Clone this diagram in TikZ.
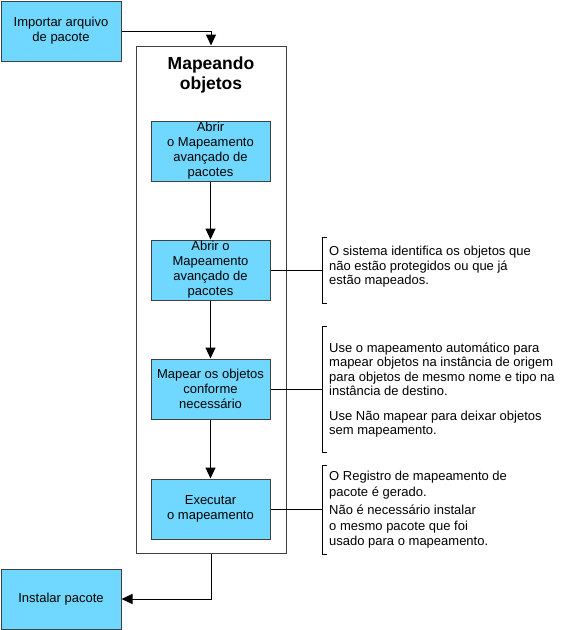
\documentclass[tikz,border=0pt]{standalone}
\usepackage{fontspec}
\setmainfont{Liberation Sans}
\usetikzlibrary{positioning,arrows.meta}
\definecolor{boxblue}{HTML}{70D8FF}
\definecolor{edgegray}{HTML}{404040}

\begin{document}
\begin{tikzpicture}[
    x=1pt, y=1pt,
    font=\fontsize{13}{15}\selectfont,
    block/.style={
        rectangle,
        draw=edgegray,
        line width=1pt,
        fill=boxblue,
        minimum width=120pt,
        minimum height=60pt,
        inner sep=0pt,
        align=center
    },
    frame/.style={
        rectangle,
        draw=edgegray,
        line width=1pt,
        minimum width=150pt,
        minimum height=507pt,
        inner sep=0pt
    },
    flow/.style={-{Triangle[length=11pt,width=10pt]}, line width=1pt},
    tie/.style={line width=1pt},
    note/.style={anchor=west, align=left, inner sep=0pt, font=\fontsize{13}{14.5}\selectfont}
]
    \useasboundingbox (0,0) rectangle (579,-630);

    % Outer blocks
    \node[block] (imp) at (61,-31) {Importar arquivo\\de pacote};
    \node[block] (inst) at (61,-599) {Instalar pacote};

    % Mapping frame
    \node[frame] (map) at (211,-299.5) {};
    \node[font=\fontsize{17.5}{20}\selectfont\bfseries, align=center] (title) at (211,-75) {Mapeando\\objetos};

    % Steps
    \node[block, minimum width=119pt] (s1) at (210.5,-151) {Abrir\\o Mapeamento\\avançado de\\pacotes};
    \node[block, minimum width=119pt] (s2) at (210.5,-270) {Abrir o\\Mapeamento\\avançado de\\pacotes};
    \node[block, minimum width=119pt] (s3) at (210.5,-389) {Mapear os objetos\\conforme\\necessário};
    \node[block, minimum width=119pt] (s4) at (210.5,-509) {Executar\\o mapeamento};

    % Arrows
    \draw[flow] (imp.east) -| (map.north);
    \draw[flow] (s1.south) -- (s2.north);
    \draw[flow] (s2.south) -- (s3.north);
    \draw[flow] (s3.south) -- (s4.north);
    \draw[flow] (map.south) |- (inst.east);

    % Notes
    \coordinate (k1) at (322,-270);
    \coordinate (k2) at (322,-389);
    \coordinate (k3) at (322,-509);
    \draw[tie] (s2.east) -- (k1);
    \draw[tie] (s3.east) -- (k2);
    \draw[tie] (s4.east) -- (k3);
    \draw[tie] (327,-237) -- (322,-237) -- (322,-303) -- (327,-303);
    \draw[tie] (327,-326) -- (322,-326) -- (322,-452) -- (327,-452);
    \draw[tie] (327,-465) -- (322,-465) -- (322,-554) -- (327,-554);
    \node[note] (n1) at (329,-267) {O sistema identifica os objetos que\\não estão protegidos ou que já\\estão mapeados.};
    \node[note] (n2) at (329,-390) {Use o mapeamento automático para\\mapear objetos na instância de origem\\para objetos de mesmo nome e tipo na\\instância de destino.\\[10pt]Use Não mapear para deixar objetos\\sem mapeamento.};
    \node[note, font=\fontsize{13}{15.5}\selectfont] (n3) at (329,-510) {O Registro de mapeamento de\\pacote é gerado.\\[3pt]Não é necessário instalar\\o mesmo pacote que foi\\usado para o mapeamento.};
\end{tikzpicture}
\end{document}
